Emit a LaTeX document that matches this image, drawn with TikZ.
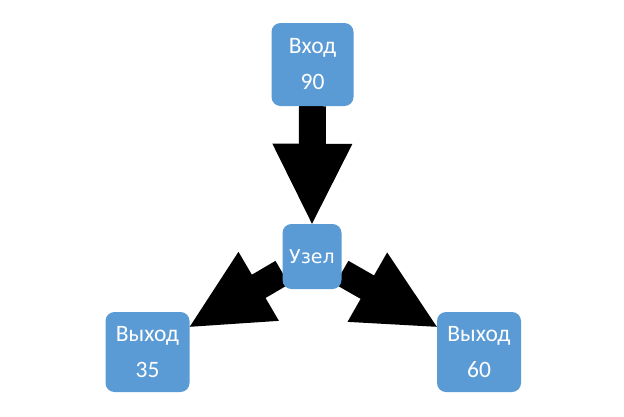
\documentclass[tikz,border=0pt]{standalone}
\usepackage{fontspec}
\setmainfont{Carlito}
\newfontfamily\dejavu{DejaVu Sans}
\usetikzlibrary{calc}
\pgfdeclarelayer{background}
\pgfsetlayers{background,main}
\definecolor{boxblue}{HTML}{5B9BD5}
\tikzset{
  box/.style={fill=boxblue, rounded corners=9pt, text=white, align=center, inner sep=0pt,
    font=\fontsize{23.5}{36}\selectfont},
  blockarrow/.style={fill=black, draw=none},
}
\newcommand\blockarr[3]{%
  \coordinate (#3h) at ($(#2)!80pt!(#1)$);
  \fill[blockarrow] ($(#1)!13.5pt!90:(#2)$) -- ($(#3h)!13.5pt!90:(#2)$) -- ($(#3h)!40pt!90:(#2)$)
    -- (#2) -- ($(#3h)!40pt!-90:(#2)$) -- ($(#3h)!13.5pt!-90:(#2)$) -- ($(#1)!13.5pt!-90:(#2)$) -- cycle;
}
\begin{document}
\begin{tikzpicture}[x=1pt,y=-1pt]
\useasboundingbox (0,0) rectangle (624,416);
\node[box, minimum width=82pt, minimum height=83pt] (in) at (312.5,64.5) {Вход\\90};
\node[box, minimum width=59pt, minimum height=65pt, font=\dejavu\fontsize{19}{22}\selectfont] (u) at (312,256.5) {Узел};
\node[box, minimum width=84pt, minimum height=80pt] (o1) at (147.5,352) {Выход\\35};
\node[box, minimum width=84pt, minimum height=80pt] (o2) at (479,352) {Выход\\60};
\coordinate (l1) at ($(u.west)+(0,16)$);
\coordinate (l2) at ($(o1.north east)+(0,15)$);
\coordinate (r1) at ($(u.east)+(0,16)$);
\coordinate (r2) at ($(o2.north west)+(0,15)$);
\begin{pgfonlayer}{background}
\blockarr{in.south}{u.north}{a}
\blockarr{l1}{l2}{b}
\blockarr{r1}{r2}{c}
\end{pgfonlayer}
\end{tikzpicture}
\end{document}
